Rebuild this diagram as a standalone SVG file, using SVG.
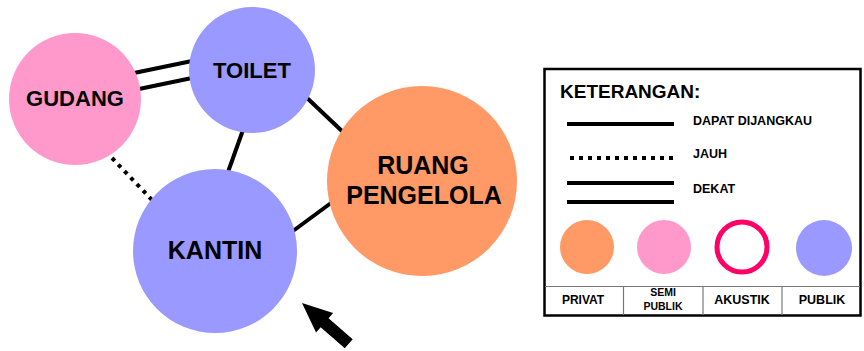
<svg xmlns="http://www.w3.org/2000/svg" width="864" height="351" viewBox="0 0 864 351">
<style>
.lbl{font-family:"Liberation Sans",Arial,sans-serif;font-weight:bold;fill:#000;text-anchor:middle}
.ln{stroke:#000;stroke-width:4;fill:none}
.dot{stroke:#000;stroke-width:4;fill:none;stroke-dasharray:4 5}
.priv{fill:#FF9966}.semi{fill:#FF99CC}.pub{fill:#9999FF}
.leg{font-family:"Liberation Sans",Arial,sans-serif;font-weight:bold;fill:#000}
</style>
<rect width="864" height="351" fill="#fff"/>
<g id="connectors">
<line class="ln" x1="134" y1="73" x2="192" y2="61"/>
<line class="ln" x1="139" y1="89" x2="192" y2="78"/>
<line class="ln" x1="243" y1="130" x2="228" y2="172"/>
<line class="ln" x1="305" y1="96" x2="344" y2="133"/>
<line class="ln" x1="293" y1="231" x2="331" y2="203"/>
<line class="dot" x1="112" y1="158" x2="152" y2="200"/>
</g>
<g id="gudang"><circle class="semi" cx="75" cy="99" r="66"/><text class="lbl" x="75" y="106" font-size="22">GUDANG</text></g>
<g id="toilet"><circle class="pub" cx="252" cy="70" r="63"/><text class="lbl" x="252" y="78" font-size="22">TOILET</text></g>
<g id="kantin"><circle class="pub" cx="215" cy="251" r="82"/><text class="lbl" x="215" y="259" font-size="25">KANTIN</text></g>
<g id="ruang-pengelola"><circle class="priv" cx="422" cy="181" r="95"/><text class="lbl" x="423" y="174" font-size="25">RUANG</text><text class="lbl" x="424" y="204" font-size="25">PENGELOLA</text></g>
<g id="arrow"><polygon transform="translate(302,303) rotate(41.1)" points="0,0 30,-13 30,-6 62,-6 62,6 30,6 30,13" fill="#000"/></g>
<g id="legend">
<rect x="544.5" y="69" width="316" height="246.5" fill="#fff" stroke="#000" stroke-width="2.5"/>
<line x1="545" y1="286.5" x2="860" y2="286.5" stroke="#777" stroke-width="1.2"/>
<line x1="623.5" y1="286.5" x2="623.5" y2="315" stroke="#777" stroke-width="1.2"/>
<line x1="703" y1="286.5" x2="703" y2="315" stroke="#777" stroke-width="1.2"/>
<line x1="782" y1="286.5" x2="782" y2="315" stroke="#777" stroke-width="1.2"/>
<text class="leg" x="560" y="98" font-size="19">KETERANGAN:</text>
<line class="ln" x1="567" y1="124" x2="674" y2="124"/>
<line class="dot" x1="570" y1="158" x2="674" y2="158" stroke-width="3.5"/>
<line class="ln" x1="567" y1="183" x2="674" y2="183"/>
<line class="ln" x1="567" y1="202" x2="674" y2="202"/>
<text class="leg" x="693" y="125" font-size="12.5">DAPAT DIJANGKAU</text>
<text class="leg" x="693" y="158" font-size="12.5">JAUH</text>
<text class="leg" x="693" y="193" font-size="12.5">DEKAT</text>
<circle class="priv" cx="587" cy="247" r="27"/>
<circle class="semi" cx="664" cy="247" r="27"/>
<circle cx="742" cy="247" r="25" fill="none" stroke="#FF0066" stroke-width="5"/>
<circle class="pub" cx="824" cy="248" r="28"/>
<text class="lbl" x="583" y="304" font-size="12">PRIVAT</text>
<text class="lbl" x="663" y="296" font-size="10.5">SEMI</text>
<text class="lbl" x="663" y="310" font-size="10.5">PUBLIK</text>
<text class="lbl" x="742" y="304" font-size="12.5">AKUSTIK</text>
<text class="lbl" x="822" y="304" font-size="12.5">PUBLIK</text>
</g>
</svg>
